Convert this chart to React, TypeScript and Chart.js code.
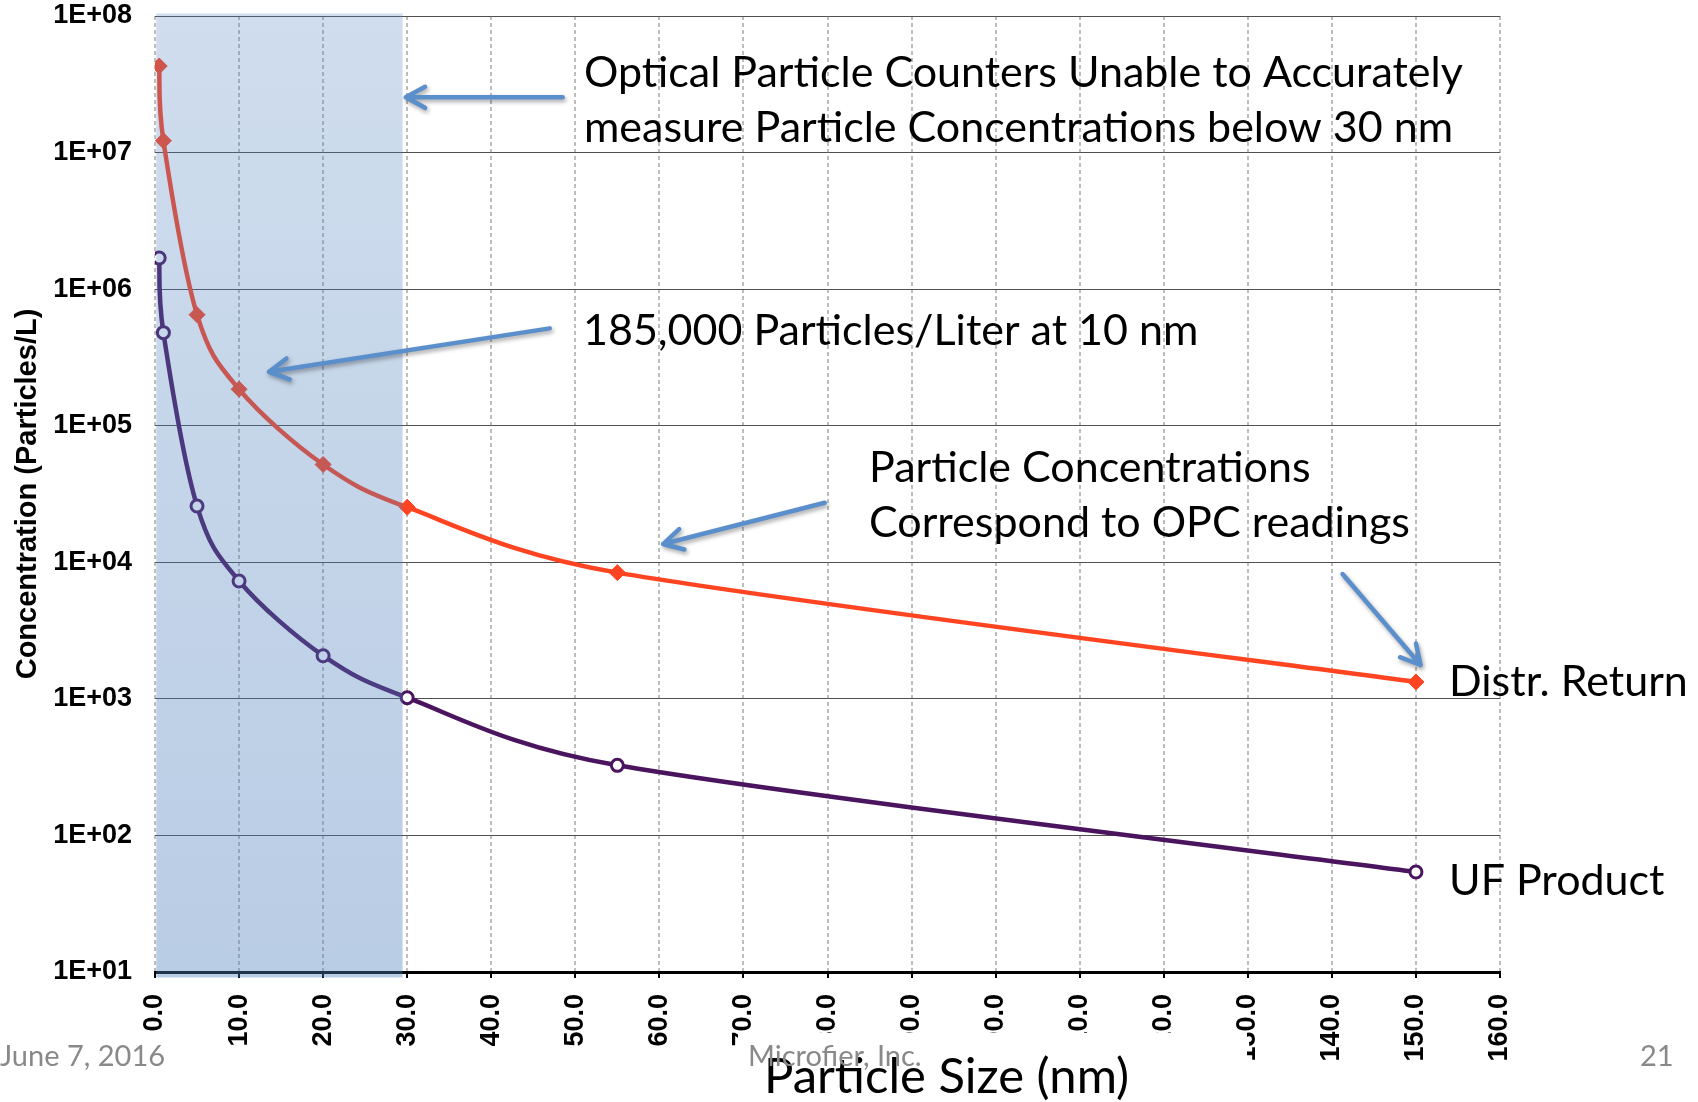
import React, { useEffect, useRef } from 'react';
import { Chart, registerables } from 'chart.js';

Chart.register(...registerables);

// Particle sizes (nm) at which both streams were measured
const SIZES_NM = [0.5, 1, 5, 10, 20, 30, 55, 150];
// Concentration, particles per litre
const DISTR_RETURN = [4.3e7, 1.22e7, 6.5e5, 1.85e5, 5.2e4, 2.53e4, 8.4e3, 1.33e3];
const UF_PRODUCT = [1.69e6, 4.8e5, 2.58e4, 7.3e3, 2.07e3, 1.02e3, 326, 54];

const X_TICKS = [0, 10, 20, 30, 40, 50, 60, 70, 80, 90, 100, 110, 120, 130, 140, 150, 160];
const Y_TICKS = [1e1, 1e2, 1e3, 1e4, 1e5, 1e6, 1e7, 1e8];

// Size range optical particle counters cannot resolve
const OPC_BLIND_RANGE = [0.15, 29.45];

// Callout arrows, endpoints in (nm, particles/L)
const ARROWS = [
  { from: [48.5, 2.54e7], to: [29.83, 2.54e7] },
  { from: [46.96, 5.16e5], to: [13.56, 2.48e5] },
  { from: [79.67, 2.73e4], to: [60.44, 1.36e4] },
  { from: [141.27, 8.2e3], to: [150.55, 1.77e3] },
];

const RED = '#FF4422';
const PURPLE = '#4A145E';
const ARROW_BLUE = '#5B8FCB';
const TEXT_FONT = 'Lato, "Open Sans", sans-serif';
const AXIS_FONT = '"Liberation Sans", Arial, sans-serif';

// Spreadsheet-style smoothed line: Bezier handles run along the chord between
// the neighbouring points, 1/6 of its length, but never longer than half of
// the segment they belong to.
const SMOOTHING = 1 / 6;

function drawArrow(ctx: CanvasRenderingContext2D, x1: number, y1: number, x2: number, y2: number) {
  const back = Math.atan2(y1 - y2, x1 - x2);
  const len = 22;
  const spread = 0.5;
  ctx.save();
  ctx.strokeStyle = ARROW_BLUE;
  ctx.lineWidth = 4.5;
  ctx.lineCap = 'round';
  ctx.lineJoin = 'round';
  ctx.shadowColor = 'rgba(0,0,0,0.35)';
  ctx.shadowBlur = 4;
  ctx.shadowOffsetX = 1.5;
  ctx.shadowOffsetY = 2.5;
  ctx.beginPath();
  ctx.moveTo(x1, y1);
  ctx.lineTo(x2, y2);
  ctx.moveTo(x2 + len * Math.cos(back + spread), y2 + len * Math.sin(back + spread));
  ctx.lineTo(x2, y2);
  ctx.lineTo(x2 + len * Math.cos(back - spread), y2 + len * Math.sin(back - spread));
  ctx.stroke();
  ctx.restore();
}

const smoothLinePlugin = {
  id: 'smoothLine',
  beforeDatasetDraw(chart: any, args: any) {
    const meta = args.meta;
    const pts = meta.data;
    const n = pts.length;
    if (!meta.dataset || n < 2) return;
    const dist = (a: any, b: any) => Math.hypot(b.x - a.x, b.y - a.y);
    for (let i = 0; i < n; i++) {
      const p = pts[i];
      const prev = pts[Math.max(i - 1, 0)];
      const next = pts[Math.min(i + 1, n - 1)];
      const chord = dist(prev, next);
      if (chord === 0) {
        p.cp1x = p.cp2x = p.x;
        p.cp1y = p.cp2y = p.y;
        continue;
      }
      const ux = (next.x - prev.x) / chord;
      const uy = (next.y - prev.y) / chord;
      const base = chord * SMOOTHING;
      const inLen = i > 0 ? Math.min(base, dist(prev, p) / 2) : 0;
      const outLen = i < n - 1 ? Math.min(base, dist(p, next) / 2) : 0;
      p.cp1x = p.x - ux * inLen;
      p.cp1y = p.y - uy * inLen;
      p.cp2x = p.x + ux * outLen;
      p.cp2y = p.y + uy * outLen;
    }
    meta.dataset._pointsUpdated = true;
    meta.dataset._path = undefined;
  },
};

const slidePlugin = {
  id: 'slideDecor',
  beforeDraw(chart: any) {
    const { ctx, width, height } = chart;
    ctx.save();
    ctx.fillStyle = '#ffffff';
    ctx.fillRect(0, 0, width, height);
    ctx.restore();
  },
  afterDatasetsDraw(chart: any) {
    const { ctx, chartArea } = chart;
    const xs = chart.scales.x;
    const left = xs.getPixelForValue(OPC_BLIND_RANGE[0]);
    const right = xs.getPixelForValue(OPC_BLIND_RANGE[1]);
    const top = chartArea.top - 2.5;
    const bottom = chartArea.bottom + 5.5;
    const g = ctx.createLinearGradient(0, top, 0, bottom);
    g.addColorStop(0, 'rgba(79,129,189,0.27)');
    g.addColorStop(1, 'rgba(79,129,189,0.40)');
    ctx.save();
    ctx.fillStyle = g;
    ctx.fillRect(left, top, right - left, bottom - top);
    ctx.restore();
  },
  afterDraw(chart: any) {
    const { ctx, chartArea } = chart;
    const xs = chart.scales.x;
    const ys = chart.scales.y;

    ARROWS.forEach((a) => {
      drawArrow(
        ctx,
        xs.getPixelForValue(a.from[0]),
        ys.getPixelForValue(a.from[1]),
        xs.getPixelForValue(a.to[0]),
        ys.getPixelForValue(a.to[1])
      );
    });

    ctx.save();
    ctx.fillStyle = '#000';
    ctx.textBaseline = 'alphabetic';
    ctx.textAlign = 'left';
    ctx.font = `43px ${TEXT_FONT}`;
    ctx.fillText('Optical Particle Counters Unable to Accurately', 584, 87);
    ctx.fillText('measure Particle Concentrations below 30 nm', 584, 142);
    ctx.fillText('185,000 Particles/Liter at 10 nm', 583, 345);
    ctx.fillText('Particle Concentrations', 869, 482);
    ctx.fillText('Correspond to OPC readings', 869, 537);
    ctx.fillText('Distr. Return', 1449, 696);
    ctx.fillText('UF Product', 1449, 895);

    // y-axis title, centred on the plot height
    ctx.save();
    ctx.translate(28, (chartArea.top + chartArea.bottom) / 2);
    ctx.rotate(-Math.PI / 2);
    ctx.textAlign = 'center';
    ctx.textBaseline = 'middle';
    ctx.font = `bold 29px ${AXIS_FONT}`;
    ctx.fillText('Concentration (Particles/L)', 0, 0);
    ctx.restore();

    // x-axis title box
    ctx.fillStyle = '#ffffff';
    ctx.fillRect(738, 1033, 1247 - 738, 1102 - 1033);
    ctx.fillStyle = '#000';
    ctx.font = `49px ${TEXT_FONT}`;
    ctx.fillText('Particle Size (nm)', 764, 1093);

    // footer
    ctx.fillStyle = '#898989';
    ctx.font = `29px ${TEXT_FONT}`;
    ctx.fillText('Microfier, Inc.', 748, 1066);
    ctx.fillText('June 7, 2016', 0, 1066);
    ctx.fillText('21', 1640, 1066);
    ctx.restore();
  },
};

export default function App() {
  const canvasRef = useRef<HTMLCanvasElement>(null);

  useEffect(() => {
    const canvas = canvasRef.current;
    if (!canvas) return;
    const chart = new Chart(canvas, {
      type: 'line',
      data: {
        datasets: [
          {
            label: 'Distr. Return',
            data: SIZES_NM.map((x, i) => ({ x, y: DISTR_RETURN[i] })),
            borderColor: RED,
            backgroundColor: RED,
            borderWidth: 4.5,
            tension: 0.4,
            pointStyle: 'rectRot',
            pointRadius: 8,
            pointBorderWidth: 1,
            pointBackgroundColor: RED,
            pointBorderColor: RED,
            fill: false,
          },
          {
            label: 'UF Product',
            data: SIZES_NM.map((x, i) => ({ x, y: UF_PRODUCT[i] })),
            borderColor: PURPLE,
            backgroundColor: '#ffffff',
            borderWidth: 4.5,
            tension: 0.4,
            pointStyle: 'circle',
            pointRadius: 6,
            pointBorderWidth: 3,
            pointBackgroundColor: '#ffffff',
            pointBorderColor: PURPLE,
            fill: false,
          },
        ],
      },
      options: {
        responsive: false,
        animation: false,
        devicePixelRatio: 1,
        layout: { padding: { top: 16, right: 198, bottom: 0, left: 0 } },
        plugins: {
          legend: { display: false },
          tooltip: { enabled: false },
          title: { display: false },
        },
        scales: {
          x: {
            type: 'linear',
            min: 0,
            max: 160,
            afterBuildTicks: (s: any) => {
              s.ticks = X_TICKS.map((v) => ({ value: v }));
            },
            afterFit: (s: any) => {
              s.height = 130;
            },
            ticks: {
              autoSkip: false,
              minRotation: 90,
              maxRotation: 90,
              padding: 16,
              color: '#000',
              font: { family: AXIS_FONT, weight: 'bold', size: 27, lineHeight: 1 },
              callback: (v: any) => Number(v).toFixed(1),
            },
            grid: {
              color: '#BDBDBD',
              lineWidth: 2,
              drawTicks: true,
              tickLength: 6,
              tickColor: '#000',
              tickWidth: 2,
            },
            border: { display: true, color: '#000', width: 3, dash: [4, 3] },
          },
          y: {
            type: 'logarithmic',
            min: 10,
            max: 1e8,
            afterBuildTicks: (s: any) => {
              s.ticks = Y_TICKS.map((v) => ({ value: v }));
            },
            afterFit: (s: any) => {
              s.width = 155;
            },
            ticks: {
              padding: 0,
              color: '#000',
              font: { family: AXIS_FONT, weight: 'bold', size: 27, lineHeight: 1 },
              callback: (v: any) => {
                const e = Math.round(Math.log10(Number(v)));
                return `1E+${String(e).padStart(2, '0')}`;
              },
            },
            grid: {
              color: '#505050',
              lineWidth: 1,
              drawTicks: true,
              tickLength: 23,
              tickColor: 'rgba(0,0,0,0)',
            },
            border: { display: false },
          },
        },
      },
      plugins: [smoothLinePlugin, slidePlugin],
    } as any);
    return () => chart.destroy();
  }, []);

  return (
    <div style={{ position: 'absolute', left: 0, top: 0, width: 1698, height: 1102 }}>
      <canvas ref={canvasRef} width={1698} height={1102} />
    </div>
  );
}
